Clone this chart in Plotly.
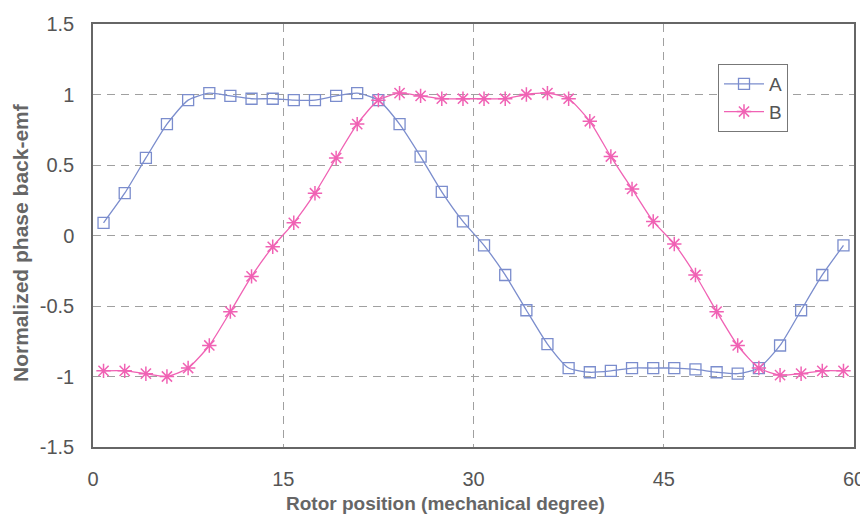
import plotly.graph_objects as go

# Rotor position (mechanical degree): 36 samples, midpoints of 60/36 bins
rotor_pos = [0.83, 2.5, 4.17, 5.83, 7.5, 9.17, 10.83, 12.5, 14.17, 15.83, 17.5, 19.17,
             20.83, 22.5, 24.17, 25.83, 27.5, 29.17, 30.83, 32.5, 34.17, 35.83, 37.5, 39.17,
             40.83, 42.5, 44.17, 45.83, 47.5, 49.17, 50.83, 52.5, 54.17, 55.83, 57.5, 59.17]

phase_a = [0.09, 0.30, 0.55, 0.79, 0.96, 1.01, 0.99, 0.97, 0.97, 0.96, 0.96, 0.99,
           1.01, 0.96, 0.79, 0.56, 0.31, 0.10, -0.07, -0.28, -0.53, -0.77, -0.94, -0.97,
           -0.96, -0.94, -0.94, -0.94, -0.95, -0.97, -0.98, -0.94, -0.78, -0.53, -0.28, -0.07]

phase_b = [-0.96, -0.96, -0.98, -1.00, -0.94, -0.78, -0.54, -0.29, -0.08, 0.09, 0.30, 0.55,
           0.79, 0.96, 1.01, 0.99, 0.97, 0.97, 0.97, 0.97, 1.00, 1.01, 0.97, 0.81,
           0.56, 0.33, 0.10, -0.06, -0.28, -0.54, -0.78, -0.94, -0.99, -0.98, -0.96, -0.96]

x_ticks = [0, 15, 30, 45, 60]
y_ticks = [-1.5, -1, -0.5, 0, 0.5, 1, 1.5]
y_tick_labels = ["-1.5", "-1", "-0.5", "0", "0.5", "1", "1.5"]

col_a = "#7b8dcd"
col_b = "#f062b4"

# page body has an 8px default margin; figure is sized to fill the rest
W, H = 860, 516
ML, MR, MT, MB = 85, 14, 16, 77
PW, PH = W - ML - MR, H - MT - MB
PX0, PY1 = 93, 447  # plot-area left / bottom in window pixels


def px(xa):
    return (xa - PX0) / PW


def py(ya):
    return (PY1 - ya) / PH


fig = go.Figure()
fig.add_trace(go.Scatter(
    x=rotor_pos, y=phase_a, name="A", mode="lines+markers",
    line=dict(color=col_a, width=1.3, shape="spline", smoothing=0.6),
    marker=dict(symbol="square-open", size=11, color=col_a, line=dict(width=1.3, color=col_a)),
))
fig.add_trace(go.Scatter(
    x=rotor_pos, y=phase_b, name="B", mode="lines+markers",
    line=dict(color=col_b, width=1.3, shape="spline", smoothing=0.6),
    marker=dict(symbol="asterisk-open", size=12, color=col_b, line=dict(width=1.5, color=col_b)),
))

fam = "Liberation Sans, Arial, sans-serif"
axis_font = dict(family=fam, size=20, color="#555555")

fig.update_layout(
    width=W, height=H,
    margin=dict(l=ML, r=MR, t=MT, b=MB),
    paper_bgcolor="white", plot_bgcolor="white",
    showlegend=True,
    legend=dict(
        x=px(718), y=py(64), xanchor="left", yanchor="top",
        bgcolor="white", bordercolor="#777777", borderwidth=1,
        font=dict(family=fam, size=19, color="#555555"),
        tracegroupgap=0, itemwidth=40,
    ),
    xaxis=dict(
        range=[0, 60], tickvals=x_ticks, ticktext=[str(v) for v in x_ticks],
        showgrid=True, gridcolor="#a0a0a0", griddash="8px,6px", gridwidth=1,
        showline=True, linecolor="#666666", linewidth=1.5, mirror=True,
        ticks="", zeroline=False, tickfont=axis_font, ticklabelstandoff=13,
        automargin=False,
    ),
    yaxis=dict(
        range=[-1.5, 1.5], tickvals=y_ticks, ticktext=y_tick_labels,
        showgrid=True, gridcolor="#a0a0a0", griddash="8px,6px", gridwidth=1,
        showline=True, linecolor="#666666", linewidth=1.5, mirror=True,
        ticks="", zeroline=False, tickfont=axis_font, ticklabelstandoff=13,
        automargin=False,
    ),
    annotations=[
        dict(text="<b>Rotor position (mechanical degree)</b>", xref="paper", yref="paper",
             x=px(445), y=py(503), xanchor="center", yanchor="middle",
             showarrow=False, font=dict(family=fam, size=19, color="#666666")),
        dict(text="<b>Normalized phase back-emf</b>", xref="paper", yref="paper",
             x=px(20), y=py(243), xanchor="center", yanchor="middle",
             textangle=-90, showarrow=False, font=dict(family=fam, size=21, color="#666666")),
    ],
)

fig.write_html("out.html")
